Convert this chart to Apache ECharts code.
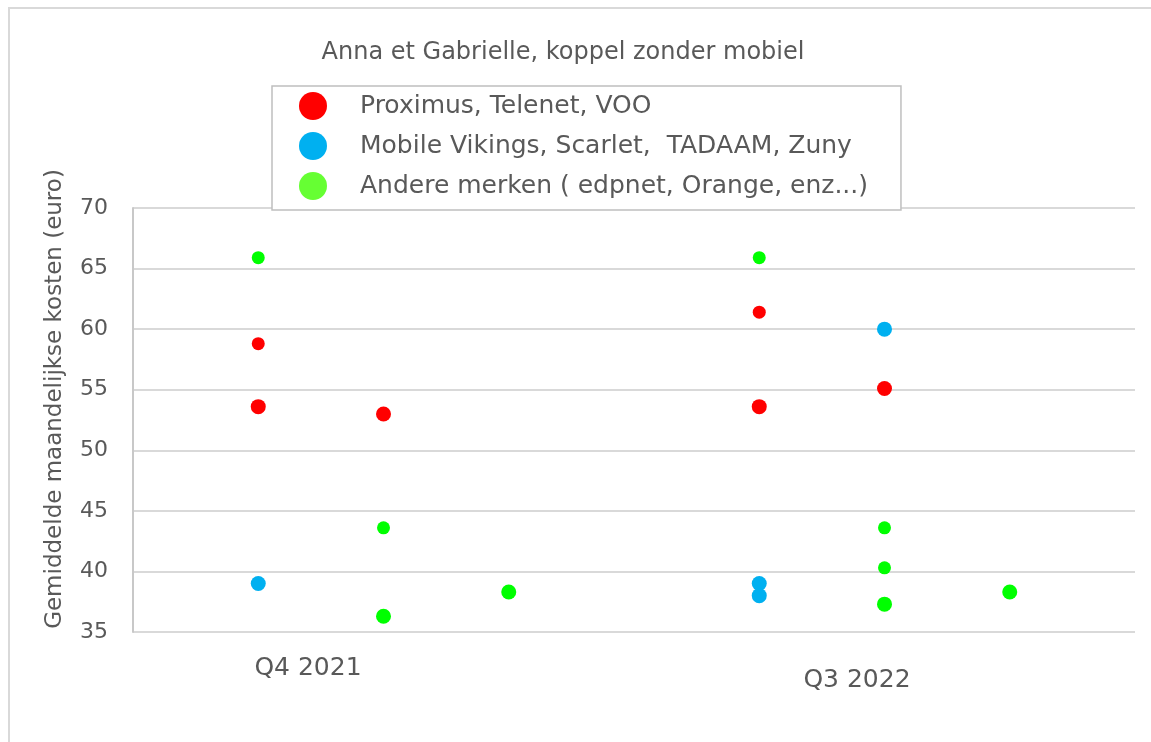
<!DOCTYPE html>
<html>
<head>
<meta charset="utf-8">
<script src="https://cdn.jsdelivr.net/npm/echarts@6/dist/echarts.min.js"></script>
<style>
  html, body { margin: 0; padding: 0; background: #fff; }
  #chart { width: 1151px; height: 742px; }
</style>
</head>
<body>
<div id="chart"></div>
<script>
// reeksen: [positie, kosten (euro), aantal overlappende aanbiedingen]
var seriesNames = ['Proximus, Telenet, VOO', 'Mobile Vikings, Scarlet,  TADAAM, Zuny', 'Andere merken ( edpnet, Orange, enz...)'];
var proximus = [[1, 58.8, 1], [1, 53.6, 2], [2, 53.0, 2], [5, 61.4, 1], [5, 53.6, 2], [6, 55.1, 2]];
var vikings = [[1, 39.0, 2], [5, 39.0, 2], [5, 38.0, 2], [6, 60.0, 2]];
var andere = [[1, 65.9, 1], [2, 43.6, 1], [2, 36.3, 2], [3, 38.3, 2], [5, 65.9, 1], [6, 43.6, 1], [6, 40.3, 1], [6, 37.3, 2], [7, 38.3, 2]];
var periods = ['Q4 2021', 'Q3 2022'];
var yTicks = [35, 40, 45, 50, 55, 60, 65, 70];

(function() {
    var myChart = echarts.init(document.getElementById('chart'));
    var grey = '#595959';
    var font = 'DejaVu Sans';

    function size(v) {
        return v[2] > 1 ? 15 : 13;
    }

    var option = {
        animation: false,
        textStyle: { fontFamily: font },
        title: {
            text: 'Anna et Gabrielle, koppel zonder mobiel',
            left: 558,
            textAlign: 'center',
            top: 36,
            textStyle: { color: grey, fontSize: 24, fontWeight: 'normal', fontFamily: font }
        },
        legend: {
            orient: 'vertical',
            left: 272,
            top: 86,
            padding: [6, 33, 10, 27],
            itemGap: 12,
            itemWidth: 28,
            itemHeight: 28,
            icon: 'circle',
            borderColor: '#bfbfbf',
            borderWidth: 1.5,
            backgroundColor: '#fff',
            z: 10,
            textStyle: { color: grey, fontSize: 25, fontFamily: font, padding: [0, 0, 0, 28], lineHeight: 28 },
            data: [
                { name: seriesNames[0], itemStyle: { color: '#ff0000' } },
                { name: seriesNames[1], itemStyle: { color: '#00b0f0' } },
                { name: seriesNames[2], itemStyle: { color: '#66ff33' } }
            ]
        },
        grid: {
            left: 133,
            top: 208,
            right: 16,
            bottom: 110,
            containLabel: false
        },
        xAxis: {
            type: 'value',
            min: 0,
            max: 8,
            show: false
        },
        yAxis: {
            type: 'value',
            min: yTicks[0],
            max: yTicks[yTicks.length - 1],
            interval: 5,
            name: 'Gemiddelde maandelijkse kosten (euro)',
            nameLocation: 'middle',
            nameGap: 66,
            nameTextStyle: { color: grey, fontSize: 23, fontFamily: font, padding: [0, 0, 0, 42] },
            axisLine: { show: true, lineStyle: { color: '#c8c8c8', width: 2 } },
            axisTick: { show: false },
            axisLabel: { color: grey, fontSize: 22, margin: 25, fontFamily: font },
            splitLine: { show: true, lineStyle: { color: '#d9d9d9', width: 2 } }
        },
        series: [{
            name: seriesNames[0],
            type: 'scatter',
            symbolSize: size,
            itemStyle: { color: '#ff0000', opacity: 1 },
            data: proximus
        }, {
            name: seriesNames[1],
            type: 'scatter',
            symbolSize: size,
            itemStyle: { color: '#00b0f0', opacity: 1 },
            data: vikings
        }, {
            name: seriesNames[2],
            type: 'scatter',
            symbolSize: size,
            itemStyle: { color: '#00ff00', opacity: 1 },
            data: andere
        }],
        graphic: [{
            type: 'rect',
            shape: { x: 9, y: 8, width: 1300, height: 900 },
            style: { fill: 'none', stroke: '#d9d9d9', lineWidth: 2 },
            silent: true
        }, {
            type: 'text',
            x: 308,
            y: 668,
            style: { text: periods[0], fill: grey, fontSize: 25, fontFamily: font, align: 'center', verticalAlign: 'middle' }
        }, {
            type: 'text',
            x: 857,
            y: 680,
            style: { text: periods[1], fill: grey, fontSize: 25, fontFamily: font, align: 'center', verticalAlign: 'middle' }
        }]
    };
    myChart.setOption(option);
})();
</script>
</body>
</html>
